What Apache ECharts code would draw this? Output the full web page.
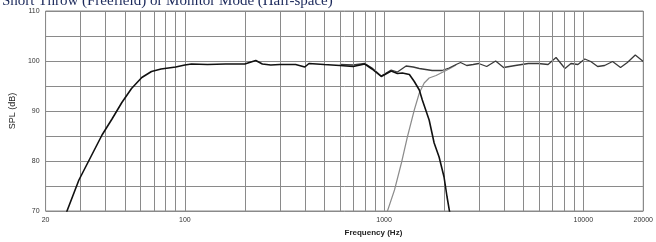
<!DOCTYPE html>
<html>
<head>
<meta charset="utf-8">
<script src="https://cdn.jsdelivr.net/npm/echarts@6/dist/echarts.min.js"></script>
<style>
  html, body { margin: 0; padding: 0; background: #fff; }
  #chart { width: 656px; height: 242px; }
</style>
</head>
<body>
<div id="chart"></div>
<script>
(function () {
  'use strict';

  const titleText = 'Short Throw (Freefield) or Monitor Mode (Half-space)';

  // vertical grid lines (Hz)
  const freqGrid = [20, 30, 40, 50, 60, 70, 80, 90, 100, 200, 300, 400, 500, 600, 700, 800, 900,
    1000, 2000, 3000, 4000, 5000, 6000, 7000, 8000, 9000, 10000, 20000];

  // [frequency Hz, SPL dB]
  const woofer = [
    [25.5, 69.8], [29.4, 76.2], [33.5, 80.6], [38.4, 85.2], [43.1, 88.4], [48.3, 91.7],
    [54, 94.5], [60.8, 96.7], [68, 97.9], [76, 98.4], [90, 98.8], [100, 99.2], [108, 99.4],
    [130, 99.3], [160, 99.4], [200, 99.4], [227, 100.1], [245, 99.4], [270, 99.2], [300, 99.3],
    [360, 99.3], [400, 98.8], [420, 99.5], [500, 99.3], [600, 99.1], [700, 98.9], [800, 99.4],
    [870, 98.4], [968, 96.9], [1086, 98.0], [1167, 97.5], [1236, 97.6], [1340, 97.3],
    [1418, 95.9], [1503, 94.2], [1556, 92.2], [1684, 88.2], [1784, 83.6], [1889, 80.8],
    [2000, 76.8], [2071, 72.8], [2140, 69.5]
  ];

  const tweeter = [
    [1030, 69.5], [1128, 74.2], [1222, 79.6], [1309, 84.8], [1418, 90.2], [1503, 93.6],
    [1590, 95.6], [1684, 96.6], [1824, 97.1], [1955, 97.7], [2119, 98.4], [2300, 99.2]
  ];

  const combined = [
    [600, 99.3], [700, 99.2], [800, 99.5], [870, 98.6], [968, 97.0], [1086, 98.2],
    [1167, 97.8], [1290, 99.0], [1400, 98.8], [1503, 98.5], [1743, 98.1], [1955, 98.1],
    [2119, 98.6], [2300, 99.3], [2420, 99.7], [2600, 99.1], [2800, 99.3], [2986, 99.5],
    [3275, 98.9], [3631, 100.0], [3980, 98.7], [4561, 99.1], [5297, 99.5], [5942, 99.5],
    [6656, 99.3], [7298, 100.7], [8093, 98.5], [8670, 99.5], [9397, 99.3], [10172, 100.4],
    [10897, 99.9], [11807, 98.9], [12795, 99.1], [14028, 99.9], [15381, 98.7], [16643, 99.7],
    [18236, 101.2], [20000, 99.9]
  ];

  const gridColor = '#8a8a8a';
  const labelFont = 'Liberation Sans, Arial, sans-serif';

  const chart = echarts.init(document.getElementById('chart'), null, { renderer: 'canvas' });

  chart.setOption({
    animation: false,
    backgroundColor: '#fff',
    graphic: [{
      type: 'text', left: 2, top: -6, silent: true,
      style: { text: titleText, font: '15px "Liberation Serif", "Times New Roman", serif', fill: '#1c2a5c' }
    }],
    grid: { left: 44, right: 11, top: 11, bottom: 31, show: true, borderColor: gridColor, borderWidth: 1 },
    xAxis: {
      type: 'log', logBase: 10, min: 20, max: 20000,
      name: 'Frequency (Hz)', nameLocation: 'middle', nameGap: 16,
      nameTextStyle: { fontFamily: labelFont, fontSize: 8, fontWeight: 'bold', color: '#222', padding: [0, 0, 0, 58] },
      axisLine: { show: false }, axisTick: { show: false }, splitLine: { show: false },
      axisLabel: {
        fontFamily: labelFont, fontSize: 7, color: '#333', margin: 6,
        formatter: function (v) { return String(Math.round(v)); }
      }
    },
    yAxis: {
      type: 'value', min: 70, max: 110, interval: 10,
      name: 'SPL (dB)', nameLocation: 'middle', nameGap: 24, nameRotate: 90,
      nameTextStyle: { fontFamily: labelFont, fontSize: 9, color: '#222' },
      axisLine: { show: false }, axisTick: { show: false },
      axisLabel: { fontFamily: labelFont, fontSize: 7, color: '#333', margin: 6 },
      splitLine: { show: true, lineStyle: { color: gridColor, width: 1 } },
      minorTick: { show: false, splitNumber: 2 },
      minorSplitLine: { show: true, lineStyle: { color: gridColor, width: 1 } }
    },
    series: [
      {
        name: 'grid', type: 'line', data: [[20, 70]], symbol: 'none', silent: true, z: 1,
        lineStyle: { opacity: 0 },
        markLine: {
          silent: true, symbol: 'none', animation: false,
          label: { show: false },
          lineStyle: { color: gridColor, width: 1, type: 'solid' },
          data: freqGrid.map(function (f) { return { xAxis: f }; })
        }
      },
      {
        name: 'Tweeter', type: 'line', data: tweeter, symbol: 'none', z: 3,
        lineStyle: { color: '#8c8c8c', width: 1.2 }
      },
      {
        name: 'Combined', type: 'line', data: combined, symbol: 'none', z: 4,
        lineStyle: { color: '#3a3a3a', width: 1.3 }
      },
      {
        name: 'Woofer', type: 'line', data: woofer, symbol: 'none', z: 5,
        lineStyle: { color: '#111', width: 1.6 }
      }
    ]
  });
})();
</script>
</body>
</html>
